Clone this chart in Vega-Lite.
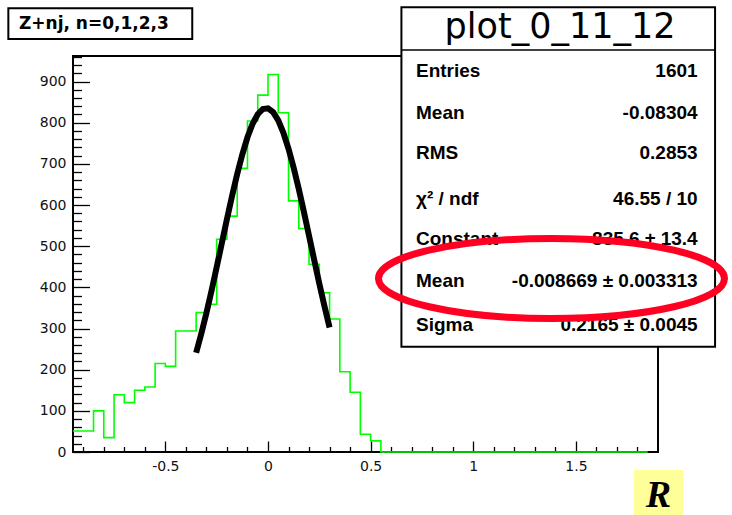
{
  "$schema": "https://vega.github.io/schema/vega-lite/v6.json",
  "width": 585,
  "height": 396,
  "autosize": {"type": "none"},
  "padding": {"left": 73, "top": 56, "right": 74, "bottom": 63},
  "background": "white",
  "config": {
    "view": {"stroke": "#000", "strokeWidth": 2},
    "axis": {"labelOverlap": false, "labelBound": false, "labelFlush": false}
  },
  "datasets": {
    "hist": [
      {"x": -0.95, "n": 51}, {"x": -0.9, "n": 51}, {"x": -0.85, "n": 100}, {"x": -0.8, "n": 35},
      {"x": -0.75, "n": 139}, {"x": -0.7, "n": 120}, {"x": -0.65, "n": 150}, {"x": -0.6, "n": 158},
      {"x": -0.55, "n": 215}, {"x": -0.5, "n": 208}, {"x": -0.45, "n": 294}, {"x": -0.4, "n": 294},
      {"x": -0.35, "n": 339}, {"x": -0.3, "n": 359}, {"x": -0.25, "n": 517}, {"x": -0.2, "n": 573},
      {"x": -0.15, "n": 689}, {"x": -0.1, "n": 804}, {"x": -0.05, "n": 867}, {"x": 0, "n": 917},
      {"x": 0.05, "n": 824}, {"x": 0.1, "n": 610}, {"x": 0.15, "n": 543}, {"x": 0.2, "n": 456},
      {"x": 0.25, "n": 387}, {"x": 0.3, "n": 323}, {"x": 0.35, "n": 195}, {"x": 0.4, "n": 145},
      {"x": 0.45, "n": 43}, {"x": 0.5, "n": 27}, {"x": 0.55, "n": 0}, {"x": 0.6, "n": 0},
      {"x": 0.65, "n": 0}, {"x": 0.7, "n": 0}, {"x": 0.75, "n": 0}, {"x": 0.8, "n": 0},
      {"x": 0.85, "n": 0}, {"x": 0.9, "n": 0}, {"x": 0.95, "n": 0}, {"x": 1, "n": 0},
      {"x": 1.05, "n": 0}, {"x": 1.1, "n": 0}, {"x": 1.15, "n": 0}, {"x": 1.2, "n": 0},
      {"x": 1.25, "n": 0}, {"x": 1.3, "n": 0}, {"x": 1.35, "n": 0}, {"x": 1.4, "n": 0},
      {"x": 1.45, "n": 0}, {"x": 1.5, "n": 0}, {"x": 1.55, "n": 0}, {"x": 1.6, "n": 0},
      {"x": 1.65, "n": 0}, {"x": 1.7, "n": 0}, {"x": 1.75, "n": 0}, {"x": 1.8, "n": 0},
      {"x": 1.85, "n": 0}
    ],
    "fit": [
      {"x": -0.35, "f": 241.1}, {"x": -0.325, "f": 287.4}, {"x": -0.3, "f": 337.9}, {"x": -0.275, "f": 392.1},
      {"x": -0.25, "f": 449.0}, {"x": -0.225, "f": 507.2}, {"x": -0.2, "f": 565.5}, {"x": -0.175, "f": 622.0},
      {"x": -0.15, "f": 675.2}, {"x": -0.125, "f": 723.3}, {"x": -0.1, "f": 764.5}, {"x": -0.075, "f": 797.3},
      {"x": -0.05, "f": 820.5}, {"x": -0.025, "f": 833.2}, {"x": 0, "f": 834.9}, {"x": 0.025, "f": 825.6},
      {"x": 0.05, "f": 805.5}, {"x": 0.075, "f": 775.5}, {"x": 0.1, "f": 736.7}, {"x": 0.125, "f": 690.6},
      {"x": 0.15, "f": 638.8}, {"x": 0.175, "f": 583.1}, {"x": 0.2, "f": 525.2}, {"x": 0.225, "f": 466.7},
      {"x": 0.25, "f": 409.3}, {"x": 0.275, "f": 354.2}, {"x": 0.3, "f": 302.4}
    ]
  },
  "layer": [
    {
      "data": {"name": "hist"},
      "mark": {"type": "line", "interpolate": "step-after", "color": "#00ff00", "strokeWidth": 1.6},
      "encoding": {
        "x": {
          "field": "x", "type": "quantitative",
          "scale": {"domain": [-0.95, 1.9], "nice": false, "zero": false},
          "axis": {
            "title": null, "domain": false, "grid": false, "tickCount": 200,
            "values": [-0.9, -0.8, -0.7, -0.6, -0.5, -0.4, -0.3, -0.2, -0.1, 0, 0.1, 0.2, 0.3, 0.4, 0.5, 0.6, 0.7, 0.8, 0.9, 1, 1.1, 1.2, 1.3, 1.4, 1.5, 1.6, 1.7, 1.8],
            "tickColor": "#000", "tickWidth": 1.3,
            "tickSize": {"condition": {"test": "abs(datum.value * 2 - round(datum.value * 2)) > 0.001", "value": -5.5}, "value": -11},
            "labelExpr": "abs(datum.value * 2 - round(datum.value * 2)) < 0.001 ? '' + datum.value : ''",
            "labelFont": "DejaVu Sans", "labelFontSize": 14, "labelColor": "#111",
            "labelPadding": 18.5, "labelOverlap": false, "labelFlush": false
          }
        },
        "y": {
          "field": "n", "type": "quantitative",
          "scale": {"domain": [0, 962], "nice": false},
          "axis": {
            "title": null, "domain": false, "grid": false, "tickCount": 200,
            "values": [0, 20, 40, 60, 80, 100, 120, 140, 160, 180, 200, 220, 240, 260, 280, 300, 320, 340, 360, 380, 400, 420, 440, 460, 480, 500, 520, 540, 560, 580, 600, 620, 640, 660, 680, 700, 720, 740, 760, 780, 800, 820, 840, 860, 880, 900, 920, 940, 960],
            "tickColor": "#000", "tickWidth": 1.3,
            "tickSize": {"condition": {"test": "datum.value % 100 != 0", "value": -8.5}, "value": -16.5},
            "labelExpr": "datum.value % 100 == 0 ? '' + datum.value : ''",
            "labelFont": "DejaVu Sans", "labelFontSize": 14, "labelColor": "#111",
            "labelPadding": 23.5, "labelOverlap": false, "labelFlush": false
          }
        }
      }
    },
    {
      "data": {"name": "fit"},
      "mark": {"type": "line", "color": "#000", "strokeWidth": 6},
      "encoding": {
        "x": {"field": "x", "type": "quantitative"},
        "y": {"field": "f", "type": "quantitative"}
      }
    },
    {
      "data": {"values": [{}]},
      "mark": {"type": "rect", "fill": "white", "stroke": "#000", "strokeWidth": 2},
      "encoding": {
        "x": {"datum": 0.65}, "x2": {"datum": 2.178},
        "y": {"datum": 1080.3}, "y2": {"datum": 255.8}
      }
    },
    {
      "data": {"values": [{}]},
      "mark": {"type": "rule", "color": "#000", "strokeWidth": 1.5},
      "encoding": {
        "x": {"datum": 0.65}, "x2": {"datum": 2.178},
        "y": {"datum": 976.6}
      }
    },
    {
      "data": {"values": [{"name": "plot_0_11_12"}]},
      "mark": {"type": "text", "align": "center", "baseline": "alphabetic", "font": "DejaVu Sans", "fontSize": 35, "color": "#000"},
      "encoding": {
        "x": {"datum": 1.4226}, "y": {"datum": 1006.5},
        "text": {"field": "name"}
      }
    },
    {
      "data": {"values": [{"label": "Entries", "value": "1601"}]},
      "encoding": {"y": {"datum": 910.3}},
      "layer": [
        {"mark": {"type": "text", "align": "left", "baseline": "alphabetic", "font": "Liberation Sans", "fontWeight": "bold", "fontSize": 19, "color": "#000"}, "encoding": {"x": {"datum": 0.721}, "text": {"field": "label"}}},
        {"mark": {"type": "text", "align": "right", "baseline": "alphabetic", "font": "Liberation Sans", "fontWeight": "bold", "fontSize": 19, "color": "#000"}, "encoding": {"x": {"datum": 2.093}, "text": {"field": "value"}}}
      ]
    },
    {
      "data": {"values": [{"label": "Mean", "value": "-0.08304"}]},
      "encoding": {"y": {"datum": 809.0}},
      "layer": [
        {"mark": {"type": "text", "align": "left", "baseline": "alphabetic", "font": "Liberation Sans", "fontWeight": "bold", "fontSize": 19, "color": "#000"}, "encoding": {"x": {"datum": 0.721}, "text": {"field": "label"}}},
        {"mark": {"type": "text", "align": "right", "baseline": "alphabetic", "font": "Liberation Sans", "fontWeight": "bold", "fontSize": 19, "color": "#000"}, "encoding": {"x": {"datum": 2.093}, "text": {"field": "value"}}}
      ]
    },
    {
      "data": {"values": [{"label": "RMS", "value": "0.2853"}]},
      "encoding": {"y": {"datum": 711.1}},
      "layer": [
        {"mark": {"type": "text", "align": "left", "baseline": "alphabetic", "font": "Liberation Sans", "fontWeight": "bold", "fontSize": 19, "color": "#000"}, "encoding": {"x": {"datum": 0.721}, "text": {"field": "label"}}},
        {"mark": {"type": "text", "align": "right", "baseline": "alphabetic", "font": "Liberation Sans", "fontWeight": "bold", "fontSize": 19, "color": "#000"}, "encoding": {"x": {"datum": 2.093}, "text": {"field": "value"}}}
      ]
    },
    {
      "data": {"values": [{"label": "χ² / ndf", "value": "46.55 / 10"}]},
      "encoding": {"y": {"datum": 600.0}},
      "layer": [
        {"mark": {"type": "text", "align": "left", "baseline": "alphabetic", "font": "Liberation Sans", "fontWeight": "bold", "fontSize": 19, "color": "#000"}, "encoding": {"x": {"datum": 0.721}, "text": {"field": "label"}}},
        {"mark": {"type": "text", "align": "right", "baseline": "alphabetic", "font": "Liberation Sans", "fontWeight": "bold", "fontSize": 19, "color": "#000"}, "encoding": {"x": {"datum": 2.093}, "text": {"field": "value"}}}
      ]
    },
    {
      "data": {"values": [{"label": "Constant", "value": "835.6 ± 13.4"}]},
      "encoding": {"y": {"datum": 502.9}},
      "layer": [
        {"mark": {"type": "text", "align": "left", "baseline": "alphabetic", "font": "Liberation Sans", "fontWeight": "bold", "fontSize": 19, "color": "#000"}, "encoding": {"x": {"datum": 0.721}, "text": {"field": "label"}}},
        {"mark": {"type": "text", "align": "right", "baseline": "alphabetic", "font": "Liberation Sans", "fontWeight": "bold", "fontSize": 19, "color": "#000"}, "encoding": {"x": {"datum": 2.093}, "text": {"field": "value"}}}
      ]
    },
    {
      "data": {"values": [{"label": "Mean", "value": "-0.008669 ± 0.003313"}]},
      "encoding": {"y": {"datum": 400.1}},
      "layer": [
        {"mark": {"type": "text", "align": "left", "baseline": "alphabetic", "font": "Liberation Sans", "fontWeight": "bold", "fontSize": 19, "color": "#000"}, "encoding": {"x": {"datum": 0.721}, "text": {"field": "label"}}},
        {"mark": {"type": "text", "align": "right", "baseline": "alphabetic", "font": "Liberation Sans", "fontWeight": "bold", "fontSize": 19, "color": "#000"}, "encoding": {"x": {"datum": 2.093}, "text": {"field": "value"}}}
      ]
    },
    {
      "data": {"values": [{"label": "Sigma", "value": "0.2165 ± 0.0045"}]},
      "encoding": {"y": {"datum": 293.9}},
      "layer": [
        {"mark": {"type": "text", "align": "left", "baseline": "alphabetic", "font": "Liberation Sans", "fontWeight": "bold", "fontSize": 19, "color": "#000"}, "encoding": {"x": {"datum": 0.721}, "text": {"field": "label"}}},
        {"mark": {"type": "text", "align": "right", "baseline": "alphabetic", "font": "Liberation Sans", "fontWeight": "bold", "fontSize": 19, "color": "#000"}, "encoding": {"x": {"datum": 2.093}, "text": {"field": "value"}}}
      ]
    },
    {
      "data": {"values": [{}]},
      "mark": {
        "type": "point",
        "shape": "M -1 0 A 1 0.2312 0 1 0 1 0 A 1 0.2312 0 1 0 -1 0 Z",
        "size": 119716,
        "filled": false,
        "stroke": "#ff0022",
        "strokeWidth": 7,
        "opacity": 1
      },
      "encoding": {"x": {"datum": 1.381}, "y": {"datum": 421.5}}
    },
    {
      "data": {"values": [{}]},
      "mark": {"type": "rect", "fill": "white", "stroke": "#000", "strokeWidth": 2},
      "encoding": {
        "x": {"datum": -1.265}, "x2": {"datum": -0.369},
        "y": {"datum": 1077.9}, "y2": {"datum": 1003.3}
      }
    },
    {
      "data": {"values": [{"name": "Z+nj, n=0,1,2,3"}]},
      "mark": {"type": "text", "align": "center", "baseline": "alphabetic", "font": "DejaVu Sans", "fontWeight": "bold", "fontSize": 17, "color": "#000"},
      "encoding": {"x": {"datum": -0.848}, "y": {"datum": 1028.8}, "text": {"field": "name"}}
    },
    {
      "data": {"values": [{}]},
      "mark": {"type": "rect", "fill": "#ffff99"},
      "encoding": {
        "x": {"datum": 1.783}, "x2": {"datum": 2.023},
        "y": {"datum": -43.7}, "y2": {"datum": -153}
      }
    },
    {
      "data": {"values": [{"name": "R"}]},
      "mark": {"type": "text", "align": "center", "baseline": "alphabetic", "font": "Liberation Serif", "fontWeight": "bold", "fontStyle": "italic", "fontSize": 38, "color": "#000"},
      "encoding": {"x": {"datum": 1.902}, "y": {"datum": -133}, "text": {"field": "name"}}
    }
  ]
}
